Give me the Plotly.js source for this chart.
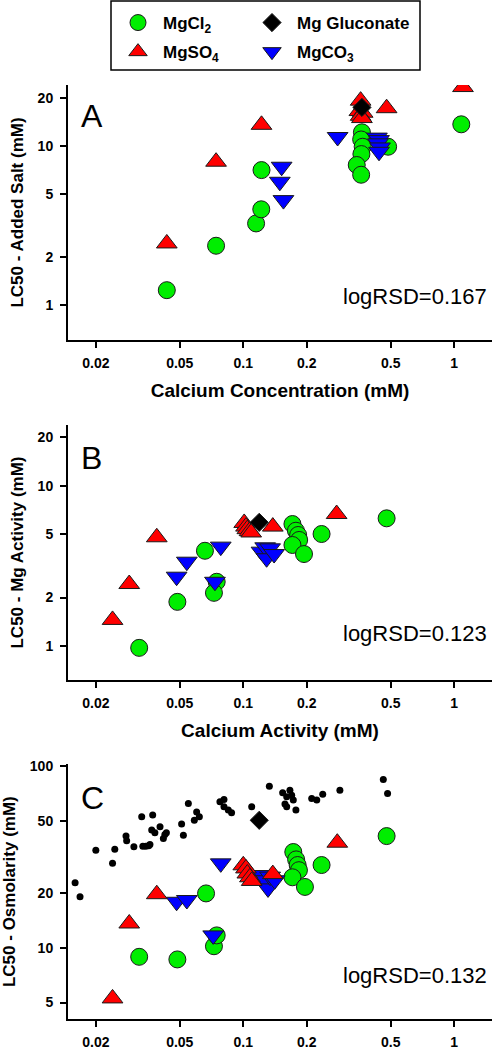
<!DOCTYPE html>
<html><head><meta charset="utf-8">
<script src="https://cdn.plot.ly/plotly-3.0.1.min.js"></script>
<style>html,body{margin:0;padding:0;background:#fff}#chart{width:494px;height:1050px}</style>
</head><body><div id="chart"></div>
<script>
// ---- tick labels ----
const xTickVals = [0.02, 0.05, 0.1, 0.2, 0.5, 1];
const xTickText = ['0.02', '0.05', '0.1', '0.2', '0.5', '1'];
const yTickValsAB = [1, 2, 5, 10, 20];
const yTickTextAB = ['1', '2', '5', '10', '20'];
const yTickValsC = [5, 10, 20, 50, 100];
const yTickTextC = ['5', '10', '20', '50', '100'];

// ---- Panel A: Calcium concentration (mM) vs LC50 - added salt (mM) ----
const A_MgCl2_x = [0.0434, 0.0743, 0.115, 0.1217, 0.122, 0.365, 0.362, 0.368, 0.363, 0.345, 0.362, 0.486, 1.08];
const A_MgCl2_y = [1.24, 2.36, 3.26, 4.0, 7.06, 12.2, 11.0, 9.9, 8.9, 7.6, 6.6, 9.9, 13.7];
const A_MgSO4_x = [0.0434, 0.0743, 0.122, 0.36, 0.355, 0.368, 0.36, 0.365, 0.478, 1.10];
const A_MgSO4_y = [2.44, 7.97, 13.6, 19.3, 16.6, 16.2, 15.5, 15.0, 17.3, 23.5];
const A_MgCO3_x = [0.149, 0.152, 0.155, 0.280, 0.43, 0.44, 0.435, 0.445, 0.44];
const A_MgCO3_y = [5.96, 7.41, 4.57, 11.4, 11.3, 10.9, 10.4, 9.8, 9.2];
const A_Gluc_x = [0.365];
const A_Gluc_y = [17.5];

// ---- Panel B: Calcium activity (mM) vs LC50 - Mg activity (mM) ----
const B_MgCl2_x = [0.0321, 0.0487, 0.0658, 0.0748, 0.0726, 0.171, 0.1776, 0.182, 0.184, 0.171, 0.194, 0.235, 0.478];
const B_MgCl2_y = [0.97, 1.88, 3.92, 2.51, 2.14, 5.76, 5.23, 4.92, 4.58, 4.26, 3.74, 4.99, 6.25];
const B_MgSO4_x = [0.024, 0.0288, 0.0389, 0.101, 0.103, 0.1045, 0.107, 0.109, 0.138, 0.277];
const B_MgSO4_y = [1.45, 2.43, 4.76, 5.85, 5.55, 5.35, 5.2, 5.1, 5.55, 6.65];
const B_MgCO3_x = [0.0483, 0.054, 0.0734, 0.0782, 0.122, 0.127, 0.129, 0.134, 0.140];
const B_MgCO3_y = [2.70, 3.35, 2.51, 4.16, 3.87, 4.12, 3.52, 4.06, 3.74];
const B_Gluc_x = [0.119];
const B_Gluc_y = [5.9];

// ---- Panel C: Calcium activity (mM) vs LC50 - osmolarity (mM) ----
const C_MgCl2_x = [0.0321, 0.0487, 0.0666, 0.0726, 0.0748, 0.1726, 0.178, 0.181, 0.1836, 0.171, 0.196, 0.235, 0.478];
const C_MgCl2_y = [8.92, 8.63, 19.9, 10.2, 11.7, 33.6, 30.6, 28.5, 26.7, 24.4, 21.6, 28.5, 41.1];
const C_MgSO4_x = [0.024, 0.0288, 0.0389, 0.100, 0.103, 0.1045, 0.1075, 0.1096, 0.138, 0.279];
const C_MgSO4_y = [5.27, 13.6, 19.7, 28.4, 27.3, 25.6, 24.4, 23.3, 25.4, 37.8];
const C_MgCO3_x = [0.0483, 0.054, 0.072, 0.0782, 0.122, 0.127, 0.131, 0.134, 0.141];
const C_MgCO3_y = [17.9, 18.3, 11.7, 29.1, 25.1, 23.5, 21.2, 24.6, 23.5];
const C_Gluc_x = [0.119];
const C_Gluc_y = [50.2];
const C_Other_x = [0.01595, 0.01683, 0.0200, 0.0240, 0.0246, 0.0278, 0.0280, 0.0303, 0.0330, 0.0334, 0.0345, 0.0356, 0.0361,
  0.0372, 0.0368, 0.0381, 0.0403, 0.0418, 0.0425, 0.0432, 0.0510, 0.0520, 0.0549, 0.0586, 0.0601, 0.0619, 0.0775, 0.0810,
  0.0810, 0.0849, 0.0880, 0.1096, 0.1329, 0.1537, 0.1606, 0.1576, 0.1606, 0.1663, 0.1696, 0.1726, 0.1776, 0.211, 0.223,
  0.238, 0.287, 0.461, 0.483];
const C_Other_y = [22.8, 19.1, 34.4, 29.1, 34.8, 41.1, 38.7, 35.9, 52.5, 36.1, 36.1, 36.4, 36.9,
  53.6, 44.4, 42.9, 46.3, 39.9, 42.0, 42.9, 47.9, 41.6, 62.1, 50.2, 55.8, 52.5, 63.4, 65.3,
  59.5, 57.1, 55.2, 59.5, 77.3, 71.1, 67.6, 61.7, 59.5, 73.5, 69.0, 64.8, 57.1, 66.2, 64.8,
  69.7, 73.5, 84.1, 70.4];

// ---- series labels ----
const seriesNames = {cl: 'MgCl<sub>2</sub>', so: 'MgSO<sub>4</sub>', co: 'MgCO<sub>3</sub>', gl: 'Mg Gluconate'};
const annLetters = ['A', 'B', 'C'];
const annRSD = ['logRSD=0.167', 'logRSD=0.123', 'logRSD=0.132'];
const xTitles = ['Calcium Concentration (mM)', 'Calcium Activity (mM)', null];
const yTitles = ['LC50 - Added Salt (mM)', 'LC50 - Mg Activity (mM)', 'LC50 - Osmolarity (mM)'];

// ---- styles ----
const FONT = 'Liberation Sans, Arial, Helvetica, sans-serif';
const OUT = {color: '#1a1a1a', width: 1};
const styles = {
  cl: {symbol: 'circle', size: 17, color: '#00ee00', line: OUT},
  so: {symbol: 'triangle-up', size: 18, color: '#ff0000', line: OUT},
  co: {symbol: 'triangle-down', size: 18, color: '#0000ff', line: OUT},
  gl: {symbol: 'diamond', size: 14, color: '#000000', line: OUT}
};
const legendOf = {cl: 'legend', so: 'legend', gl: 'legend2', co: 'legend2'};
const rankOf = {cl: 1, so: 2, gl: 1, co: 2};

function mk(key, x, y, ax, showLeg) {
  return {
    type: 'scatter', mode: 'markers', x: x, y: y,
    xaxis: 'x' + ax, yaxis: 'y' + ax,
    name: seriesNames[key], legendgroup: key, legend: legendOf[key], legendrank: rankOf[key],
    showlegend: showLeg, marker: styles[key], hoverinfo: 'x+y+name'
  };
}

const traces = [
  // Panel A (draw order: green, blue, red, black)
  mk('cl', A_MgCl2_x, A_MgCl2_y, '', true),
  mk('co', A_MgCO3_x, A_MgCO3_y, '', true),
  mk('so', A_MgSO4_x, A_MgSO4_y, '', true),
  mk('gl', A_Gluc_x, A_Gluc_y, '', true),
  // Panel B
  mk('cl', B_MgCl2_x, B_MgCl2_y, '2', false),
  mk('co', B_MgCO3_x, B_MgCO3_y, '2', false),
  mk('so', B_MgSO4_x, B_MgSO4_y, '2', false),
  mk('gl', B_Gluc_x, B_Gluc_y, '2', false),
  // Panel C
  {type: 'scatter', mode: 'markers', x: C_Other_x, y: C_Other_y, xaxis: 'x3', yaxis: 'y3',
   showlegend: false, name: 'Osmolarity', marker: {symbol: 'circle', size: 7, color: '#000000'}},
  mk('cl', C_MgCl2_x, C_MgCl2_y, '3', false),
  mk('co', C_MgCO3_x, C_MgCO3_y, '3', false),
  mk('so', C_MgSO4_x, C_MgSO4_y, '3', false),
  mk('gl', C_Gluc_x, C_Gluc_y, '3', false)
];

const H = 1050;
const panels = [ // pixel rows of each plot area (top, bottom) and y ranges (log10)
  {top: 85, bot: 340, yr: [-0.22, 1.384], tv: yTickValsAB, tt: yTickTextAB},
  {top: 425, bot: 680, yr: [-0.214, 1.379], tv: yTickValsAB, tt: yTickTextAB},
  {top: 764, bot: 1019.3, yr: [0.607, 2.01], tv: yTickValsC, tt: yTickTextC}
];
const tickFont = {family: FONT, size: 14, weight: 'bold', color: '#000'};

const layout = {
  width: 494, height: H,
  margin: {l: 68, r: 2, t: 0, b: 0},
  paper_bgcolor: '#fff', plot_bgcolor: '#fff',
  font: {family: FONT, color: '#000'},
  showlegend: true,
  legend: {x: (113 - 68) / 424, xanchor: 'left', y: 1 - 5 / H, yanchor: 'top', orientation: 'v',
           itemwidth: 40, tracegroupgap: 4, bgcolor: 'rgba(0,0,0,0)', borderwidth: 0,
           font: {family: FONT, size: 17, weight: 'bold', color: '#000'}},
  legend2: {x: (247 - 68) / 424, xanchor: 'left', y: 1 - 5 / H, yanchor: 'top', orientation: 'v',
            itemwidth: 40, tracegroupgap: 4, bgcolor: 'rgba(0,0,0,0)', borderwidth: 0,
            font: {family: FONT, size: 17, weight: 'bold', color: '#000'}},
  shapes: [{type: 'rect', xref: 'paper', yref: 'paper', x0: (111 - 68) / 424, x1: (420 - 68) / 424,
            y0: 1 - 70 / H, y1: 1 - 1 / H, line: {color: '#000', width: 1.5}}],
  annotations: []
};

panels.forEach((p, i) => {
  const s = i === 0 ? '' : String(i + 1);
  const xa = {
    type: 'log', domain: [0, 1], anchor: 'y' + s,
    range: [Math.log10(0.01476), Math.log10(1.51)],
    tickmode: 'array', tickvals: xTickVals, ticktext: xTickText,
    showgrid: false, zeroline: false, showline: true, linecolor: '#000', linewidth: 2,
    ticks: 'outside', ticklen: 6, tickwidth: 2, tickcolor: '#000', tickfont: tickFont,
    ticklabelstandoff: 3
  };
  if (xTitles[i]) {
    xa.title = {text: xTitles[i], font: {family: FONT, size: 19, weight: 'bold', color: '#000'}, standoff: 14};
  }
  layout['xaxis' + s] = xa;
  layout['yaxis' + s] = {
    type: 'log', domain: [1 - p.bot / H, 1 - p.top / H], anchor: 'x' + s,
    range: p.yr, tickmode: 'array', tickvals: p.tv, ticktext: p.tt,
    showgrid: false, zeroline: false, showline: true, linecolor: '#000', linewidth: 2,
    ticks: 'outside', ticklen: 6, tickwidth: 2, tickcolor: '#000', tickfont: tickFont,
    ticklabelstandoff: 4,
    title: {text: yTitles[i], font: {family: FONT, size: 17, weight: 'bold', color: '#000'}, standoff: 10}
  };
  const letterY = [0.8765, 0.8706, 0.865][i];
  const rsdY = [0.1725, 0.184, 0.1735][i];
  layout.annotations.push({
    xref: 'x' + s + ' domain', yref: 'y' + s + ' domain', x: 0.026, y: letterY,
    xanchor: 'left', yanchor: 'middle', showarrow: false, text: annLetters[i],
    font: {family: FONT, size: 32, color: '#000'}
  });
  layout.annotations.push({
    xref: 'x' + s + ' domain', yref: 'y' + s + ' domain', x: 0.992, y: rsdY,
    xanchor: 'right', yanchor: 'middle', showarrow: false, text: annRSD[i],
    font: {family: FONT, size: 22, color: '#000'}
  });
});

Plotly.newPlot('chart', traces, layout, {displayModeBar: false, staticPlot: true});
</script></body></html>
